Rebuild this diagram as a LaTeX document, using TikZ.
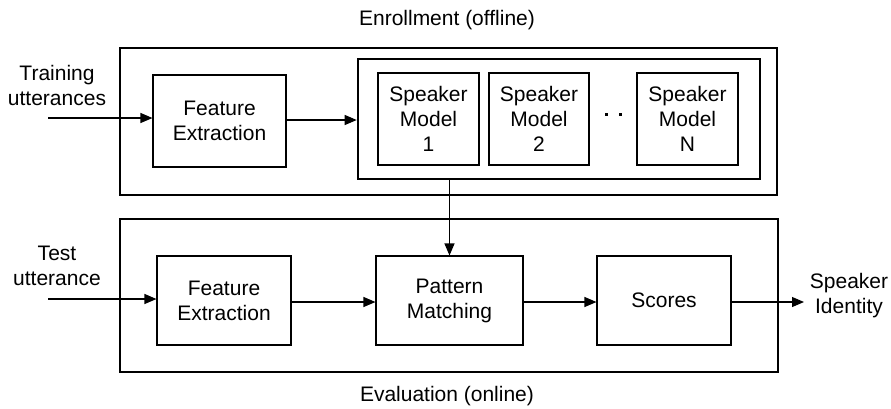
\documentclass[tikz,border=0pt]{standalone}
\usepackage{fontspec}
\setmainfont{Liberation Sans}
\usetikzlibrary{arrows.meta}
\begin{document}
\begin{tikzpicture}[x=1pt, y=-1pt,
        font=\fontsize{21}{25}\selectfont,
        blk/.style={draw, line width=1.1pt, align=center, inner sep=0pt},
        frame/.style={draw, line width=2.6pt, inner sep=0pt},
        lbl/.style={align=center, inner sep=0pt},
        >={Triangle[length=12pt, width=10pt]}, line width=1.1pt]
        \useasboundingbox (0,0) rectangle (891,408);

        % enrollment part
        \node[frame, minimum width=657pt, minimum height=147pt] (enr) at (448.5,121.5) {};
        \node[frame, minimum width=402pt, minimum height=120pt] (models) at (559,119) {};
        \node[blk, minimum width=133pt, minimum height=92pt] (fe1) at (219.5,121) {Feature\\Extraction};
        \node[blk, minimum width=101pt, minimum height=92pt] (sm1) at (428.5,119) {Speaker\\Model\\1};
        \node[blk, minimum width=100pt, minimum height=92pt] (sm2) at (539,119) {Speaker\\Model\\2};
        \node[blk, minimum width=101pt, minimum height=92pt] (smn) at (687.5,119) {Speaker\\Model\\N};
        \fill (604.5,112.5) rectangle ++(3.5,3.5);
        \fill (618.5,112.5) rectangle ++(3.5,3.5);

        % evaluation part
        \node[frame, minimum width=658pt, minimum height=153pt] (eva) at (449,295.5) {};
        \node[blk, minimum width=134pt, minimum height=89pt] (fe2) at (224,300.5) {Feature\\Extraction};
        \node[blk, minimum width=147pt, minimum height=89pt] (pm) at (449.5,300.5) {Pattern\\Matching};
        \node[blk, minimum width=134pt, minimum height=89pt] (sc) at (664,300.5) {Scores};

        % labels
        \node[lbl] (enrl) at (447,20) {Enrollment (offline)};
        \node[lbl] (eval) at (447,396) {Evaluation (online)};
        \node[lbl] (train) at (57,85) {Training\\utterances};
        \node[lbl] (test) at (57,266) {Test\\utterance};
        \node[lbl] (spk) at (849,296) {Speaker\\Identity};

        \coordinate (tin) at (48,118);
        \coordinate (sin) at (48,299);
        \coordinate (out) at (804,302);

        \draw[->] (tin) -- (tin -| fe1.west);
        \draw[->] (fe1.east |- 0,120) -- (models.west |- 0,120);
        \draw[->] (models.south -| pm.north) -- (pm.north);
        \draw[->] (sin) -- (sin -| fe2.west);
        \draw[->] (fe2.east |- 0,302) -- (pm.west |- 0,302);
        \draw[->] (pm.east |- 0,302) -- (sc.west |- 0,302);
        \draw[->] (sc.east |- out) -- (out);
    \end{tikzpicture}
\end{document}
